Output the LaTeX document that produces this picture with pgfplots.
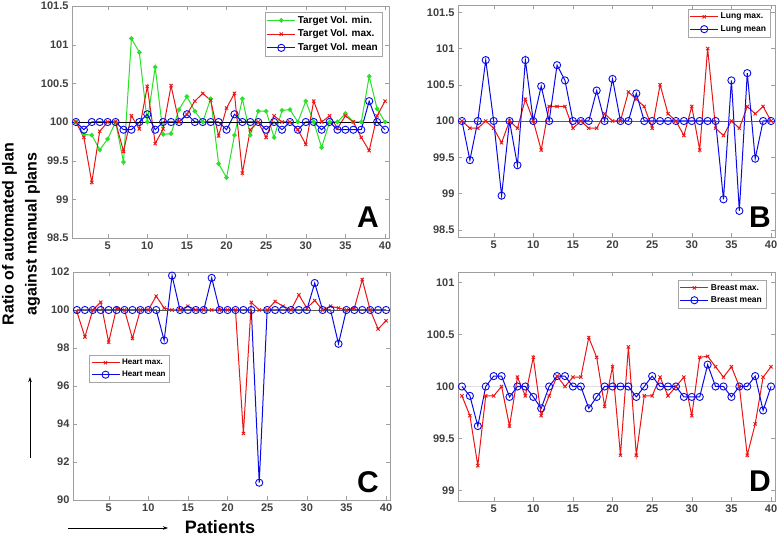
\documentclass[border=0pt]{standalone}
\usepackage{fontspec}
\setmainfont{Liberation Sans}
\usepackage{pgfplots}
\pgfplotsset{compat=1.18}
\usepackage{pgfplotstable}
\usetikzlibrary{arrows.meta}

\definecolor{mgreen}{RGB}{40,225,40}
\definecolor{mred}{RGB}{235,20,20}
\definecolor{mblue}{RGB}{10,10,230}

% panel A: target volume
\pgfplotstableread{
n   tmin    tmax    tmean
1   100     100     100
2   99.84   99.80   99.90
3   99.83   99.22   100
4   99.64   99.88   100
5   99.78   100     100
6   100     100     100
7   99.48   99.62   99.90
8   101.08  100.08  99.90
9   100.90  99.91   100
10  100     100.46  100.10
11  100.71  99.72   99.90
12  99.84   99.91   100
13  99.85   100.47  100
14  100.16  100     100
15  100.33  100.10  100.10
16  100.14  100.27  100
17  100     100.37  100
18  100.30  100.28  100
19  99.46   99.82   100
20  99.28   100.18  99.90
21  99.83   100.37  100.10
22  100.30  99.34   100
23  99.83   99.90   100
24  100.14  100     100
25  100.14  99.80   99.90
26  99.80   100.08  100
27  100.15  100     99.90
28  100.16  100     100
29  100     99.90   99.90
30  100.27  99.71   100
31  100     100.27  100
32  99.67   100     99.90
33  100     100.08  100
34  100     99.92   99.90
35  100.11  100.08  99.90
36  100     100     99.90
37  100     99.80   99.90
38  100.59  99.63   100.27
39  100.17  100.08  100
40  100     100.27  99.90
}\tabA

% panel B: lung
\pgfplotstableread{
n   lmax    lmean
1   100     100
2   99.90   99.46
3   99.90   100
4   100     100.84
5   99.90   100
6   99.70   98.97
7   100     100
8   99.90   99.39
9   100.30  100.84
10  100     100
11  99.60   100.48
12  100.20  100
13  100.20  100.77
14  100.20  100.56
15  99.90   100
16  100     100
17  99.90   100
18  99.90   100.42
19  100.10  100
20  100     100.58
21  100     100
22  100.40  100
23  100.30  100.38
24  100.20  100
25  99.90   100
26  100.50  100
27  100.10  100
28  100     100
29  99.80   100
30  100.20  100
31  99.60   100
32  101     100
33  99.90   100
34  99.80   98.92
35  100     100.56
36  99.90   98.76
37  100.20  100.66
38  100.10  99.48
39  100.20  100
40  100     100
}\tabB

% panel C: heart
\pgfplotstableread{
n   hmax    hmean
1   99.90   100
2   98.58   100
3   100     100
4   100.41  100
5   98.31   100
6   100.10  100
7   100     100
8   98.50   100
9   100     100
10  100     100
11  100.73  100
12  100.10  98.40
13  100     101.81
14  100     100
15  100.20  100
16  100     100
17  100     100
18  100     101.69
19  100     100
20  100     100
21  100     100
22  93.50   100
23  100.40  100
24  100     90.91
25  100     100
26  100.45  100
27  100.20  100
28  100     100
29  100.80  100
30  100.10  100
31  100.50  101.42
32  100     100
33  100.20  100
34  100.10  98.22
35  100     100
36  100.10  100
37  101.60  100
38  100     100
39  99.00   100
40  99.43   100
}\tabC

% panel D: breast
\pgfplotstableread{
n   bmax    bmean
1   99.91   100
2   99.72   99.91
3   99.24   99.62
4   99.91   100
5   99.91   100.10
6   100     100.10
7   99.62   99.90
8   100.09  100
9   99.91   100
10  100.28  99.90
11  99.72   99.79
12  99.91   100
13  100.10  100.10
14  100     100.10
15  100.09  100
16  100.09  100
17  100.47  99.79
18  100.28  99.90
19  99.81   100
20  100.19  100
21  99.34   100
22  100.38  100
23  99.34   99.90
24  99.91   100
25  99.91   100.10
26  100.09  100
27  99.91   100
28  100     100
29  100.09  99.90
30  99.72   99.90
31  100.28  99.90
32  100.29  100.21
33  100.19  100
34  100.09  100
35  100.19  99.90
36  100     100
37  99.34   100
38  99.64   100.10
39  100.09  99.77
40  100.19  100
}\tabD

\pgfplotsset{
  panel/.style={
    scale only axis, width=317pt, height=232pt,
    xmin=0.5, xmax=40.5, xtick={5,10,...,40},
    tick align=inside, tick pos=both,
    major tick length=4pt,
    axis line style={gray!75},
    major tick style={gray!75},
    tick label style={font=\bfseries\fontsize{11}{11}\selectfont, text=black!75},
    /pgf/number format/assume math mode=true,
    legend cell align=left,
    legend image code/.code={
      \draw[mark repeat=2,mark phase=2,##1] plot coordinates {(0pt,0pt) (14pt,0pt) (28pt,0pt)};
    },
    legend style={draw=gray!70, fill=white, inner sep=2pt, row sep=1pt,
      font=\bfseries\fontsize{8.5}{10}\selectfont},
  },
  sgreen/.style={mgreen, line width=1pt, mark=*, mark size=1.8pt},
  sred/.style={mred, line width=1pt, mark=x, mark size=2.3pt, mark options={line width=0.9pt}},
  sblue/.style={mblue, line width=1pt, mark=o, mark size=3.6pt, mark options={line width=0.9pt}},
}

\begin{document}
\begin{tikzpicture}
\useasboundingbox (0,0) rectangle (780pt,-537pt);

% A
\begin{axis}[panel, at={(72pt,-6pt)}, anchor=north west,
  ymin=98.5, ymax=101.5, ytick={98.5,99,...,101.5},
  yticklabels={98.5,99,99.5,100,100.5,101,101.5},
  legend style={at={(rel axis cs:0.978,0.975)}, anchor=north east,
    font=\bfseries\fontsize{10}{12}\selectfont}]
\addplot[sgreen] table[x=n, y=tmin] {\tabA};
\addplot[sred] table[x=n, y=tmax] {\tabA};
\addplot[sblue] table[x=n, y=tmean] {\tabA};
\addplot[black, line width=0.8pt, forget plot] coordinates {(0.5,100) (40.5,100)};
\legend{Target Vol. min., Target Vol. max., Target Vol. mean}
\end{axis}

% B
\begin{axis}[panel, at={(458pt,-5pt)}, anchor=north west,
  ymin=98.4, ymax=101.6, ytick={98.5,99,...,101.5},
  yticklabels={98.5,99,99.5,100,100.5,101,101.5},
  legend style={at={(rel axis cs:0.985,0.983)}, anchor=north east}]
\addplot[sred] table[x=n, y=lmax] {\tabB};
\addplot[sblue] table[x=n, y=lmean] {\tabB};
\addplot[black!65, line width=0.8pt, forget plot] coordinates {(0.5,100) (40.5,100)};
\legend{Lung max., Lung mean}
\end{axis}

% C
\begin{axis}[panel, at={(73pt,-272pt)}, anchor=north west,
  height=228pt,
  ymin=90, ymax=102, ytick={90,92,...,102},
  legend style={at={(rel axis cs:0.05,0.636)}, anchor=north west,
    font=\bfseries\fontsize{8}{10}\selectfont}]
\addplot[sred] table[x=n, y=hmax] {\tabC};
\addplot[sblue] table[x=n, y=hmean] {\tabC};
\addplot[black!65, line width=0.8pt, forget plot] coordinates {(0.5,100) (40.5,100)};
\legend{Heart max., Heart mean}
\end{axis}

% D
\begin{axis}[panel, at={(458pt,-272pt)}, anchor=north west,
  height=229pt,
  ymin=98.9, ymax=101.1, ytick={99,99.5,...,101},
  yticklabels={99,99.5,100,100.5,101},
  legend style={at={(rel axis cs:0.972,0.965)}, anchor=north east}]
\addplot[gray!25, line width=0.8pt, forget plot] coordinates {(0.5,100) (40.5,100)};
\addplot[sred] table[x=n, y=bmax] {\tabD};
\addplot[sblue] table[x=n, y=bmean] {\tabD};
\legend{Breast max., Breast mean}
\end{axis}

% panel letters
\node[font=\bfseries\fontsize{30}{30}\selectfont] at (368pt,-217pt) {A};
\node[font=\bfseries\fontsize{30}{30}\selectfont] at (760pt,-217pt) {B};
\node[font=\bfseries\fontsize{30}{30}\selectfont] at (368pt,-482pt) {C};
\node[font=\bfseries\fontsize{30}{30}\selectfont] at (760pt,-481pt) {D};

% axis titles and arrows
\node[rotate=90, align=center, font=\bfseries\fontsize{16}{23}\selectfont]
  at (21pt,-234pt) {Ratio of automated plan\\against manual plans};
\draw[-{Stealth[length=5pt,width=3.5pt]}, line width=0.7pt] (30pt,-458pt) -- (30pt,-377pt);
\node[font=\bfseries\fontsize{18}{18}\selectfont] at (220pt,-527pt) {Patients};
\draw[-{Stealth[length=5pt,width=3.5pt]}, line width=0.7pt] (68pt,-528pt) -- (168pt,-528pt);
\end{tikzpicture}
\end{document}
